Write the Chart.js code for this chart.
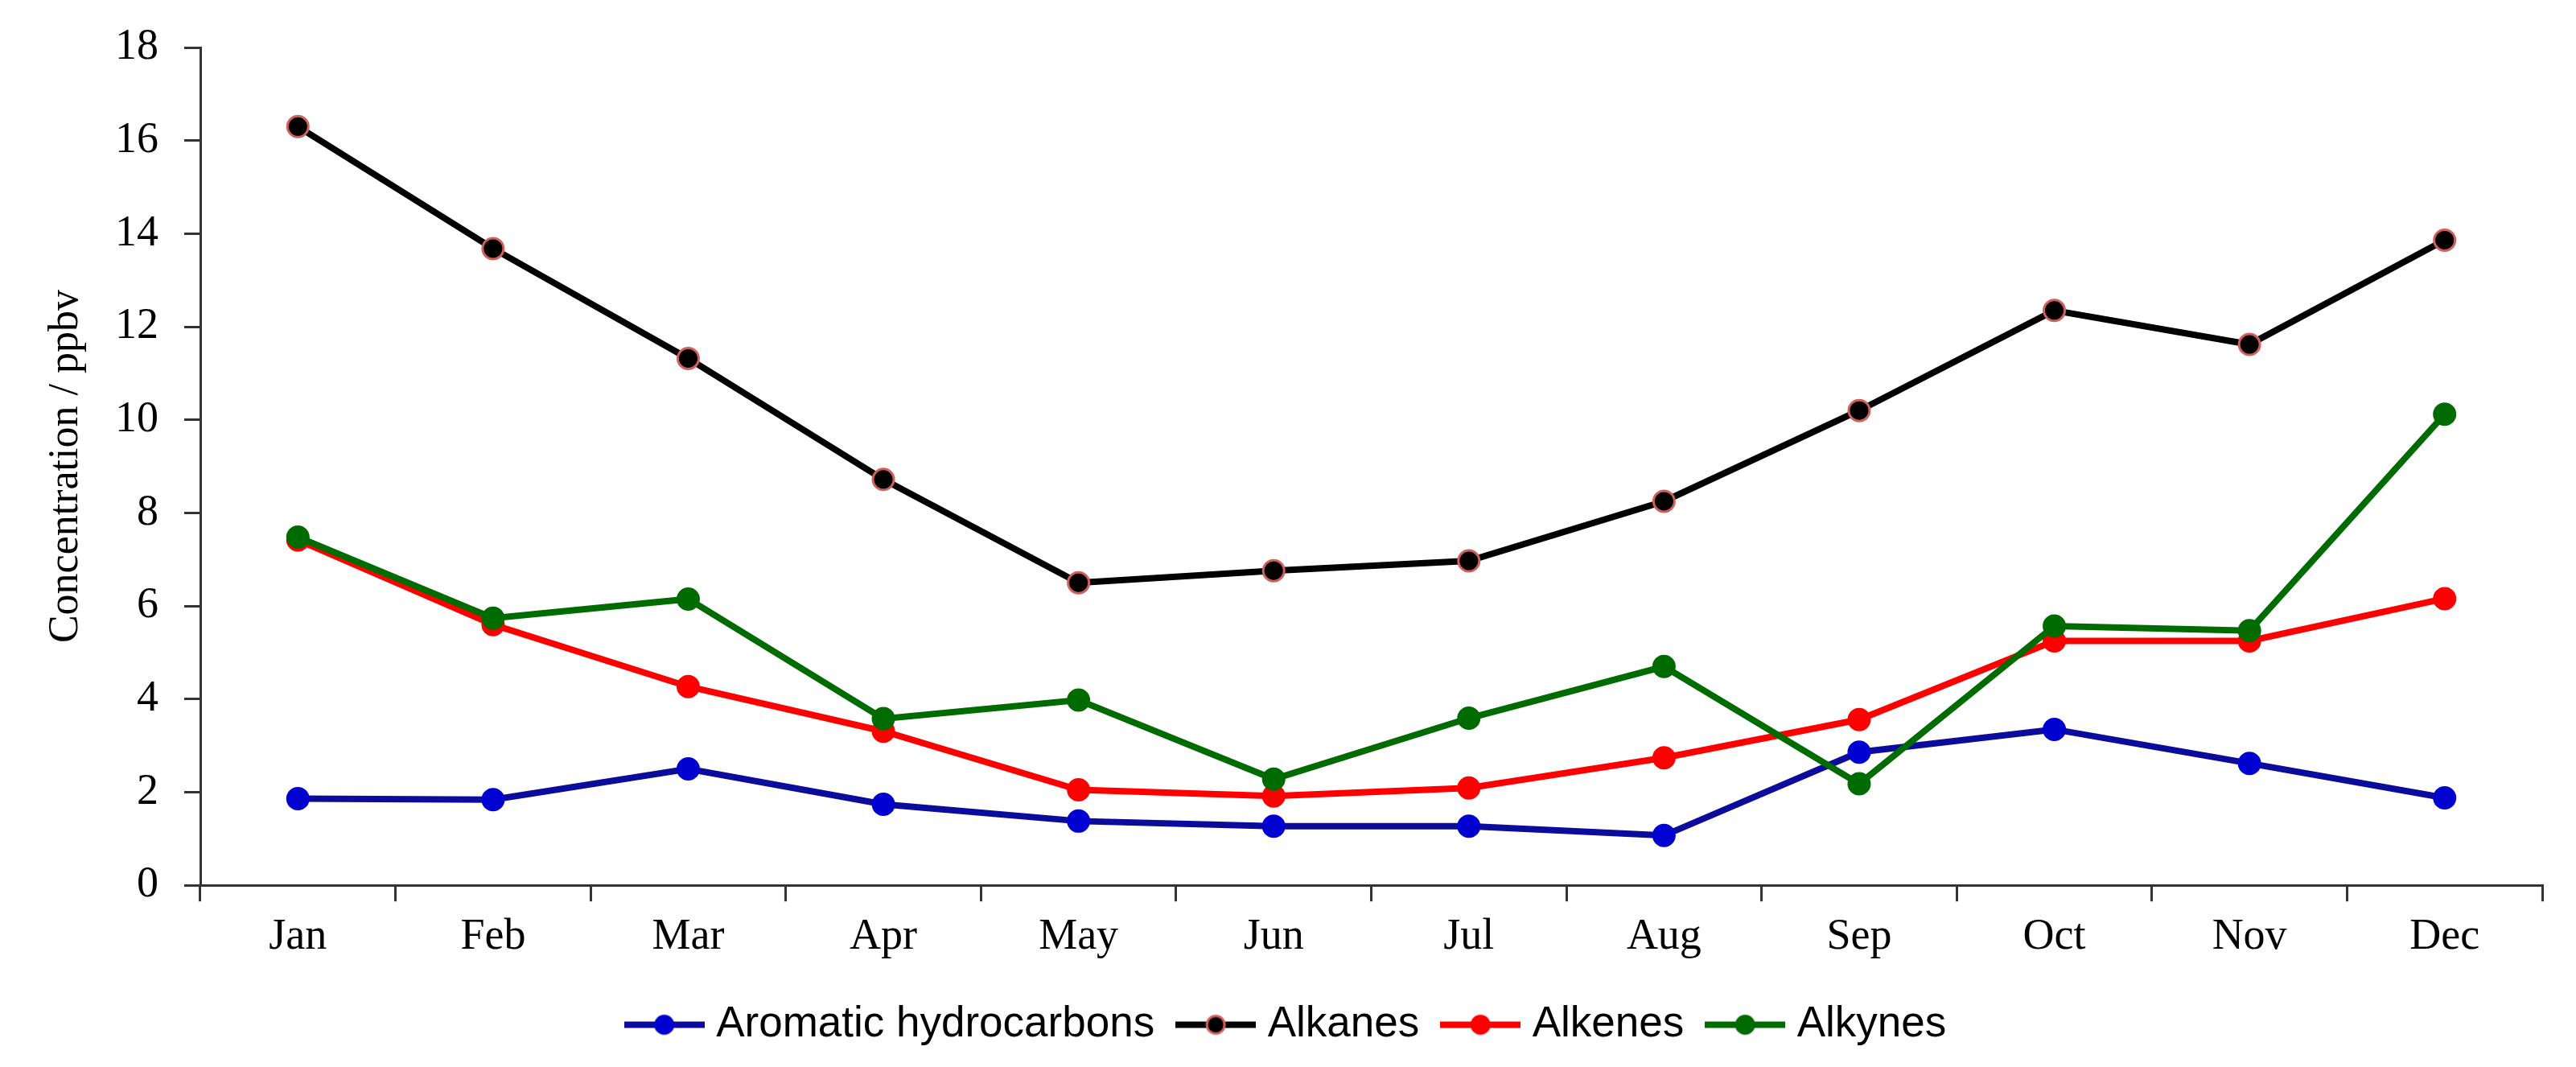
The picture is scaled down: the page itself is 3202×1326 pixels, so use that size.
<!DOCTYPE html>
<html>
<head>
<meta charset="utf-8">
<script src="https://cdn.jsdelivr.net/npm/chart.js@4/dist/chart.umd.min.js"></script>
<style>
    html, body { margin: 0; padding: 0; background: #fff; }
    #wrap { width: 3202px; height: 1326px; }
</style>
</head>
<body>
<div id="wrap"><canvas id="myChart" width="3202" height="1326"></canvas></div>
<script>
const months = ["Jan", "Feb", "Mar", "Apr", "May", "Jun", "Jul", "Aug", "Sep", "Oct", "Nov", "Dec"];
const seriesNames = ["Aromatic hydrocarbons", "Alkanes", "Alkenes", "Alkynes"];
const aromatic = [1.86, 1.84, 2.5, 1.74, 1.38, 1.27, 1.27, 1.07, 2.86, 3.35, 2.62, 1.88];
const alkanes = [16.3, 13.68, 11.32, 8.72, 6.5, 6.76, 6.97, 8.25, 10.2, 12.35, 11.62, 13.86];
const alkenes = [7.42, 5.6, 4.27, 3.31, 2.05, 1.92, 2.09, 2.74, 3.56, 5.25, 5.25, 6.16];
const alkynes = [7.48, 5.74, 6.15, 3.58, 3.98, 2.28, 3.59, 4.7, 2.18, 5.57, 5.47, 10.12];
const yTicks = [0, 2, 4, 6, 8, 10, 12, 14, 16, 18];

// legend symbol: short line with a dot in the middle
function legendIcon(lineColor, fill, edge) {
    const c = document.createElement("canvas");
    c.width = 100; c.height = 30;
    const g = c.getContext("2d");
    g.strokeStyle = lineColor;
    g.lineWidth = 8;
    g.beginPath(); g.moveTo(0, 15); g.lineTo(100, 15); g.stroke();
    g.beginPath(); g.arc(50, 15, 11, 0, Math.PI * 2);
    g.fillStyle = fill; g.fill();
    g.lineWidth = 3; g.strokeStyle = edge; g.stroke();
    return c;
}

function makeSet(label, data, line, fill, edge, order) {
    return {
        label: label,
        data: data,
        borderColor: line,
        backgroundColor: fill,
        borderWidth: 8,
        pointRadius: 13,
        pointBorderWidth: 3,
        pointBackgroundColor: fill,
        pointBorderColor: edge,
        tension: 0,
        order: order,
        icon: legendIcon(line, fill, edge)
    };
}

const ctx = document.getElementById("myChart").getContext("2d");

new Chart(ctx, {
    type: 'line',
    data: {
        labels: months,
        datasets: [
            makeSet(seriesNames[0], aromatic, '#0c0c9c', '#0000d0', '#0000d0', 4),
            makeSet(seriesNames[1], alkanes, '#000000', '#000000', '#d0605c', 3),
            makeSet(seriesNames[2], alkenes, '#ff0000', '#ff0000', '#ff0000', 2),
            makeSet(seriesNames[3], alkynes, '#006b00', '#006b00', '#006b00', 1)
        ]
    },
    options: {
        responsive: false,
        animation: false,
        layout: { padding: { top: 0, right: 42, bottom: 16, left: 47 } },
        plugins: {
            tooltip: { enabled: false },
            legend: {
                position: 'bottom',
                labels: {
                    font: { family: 'Liberation Sans', size: 53 },
                    color: '#000',
                    usePointStyle: true,
                    pointStyleWidth: 76,
                    padding: 38,
                    generateLabels: function(chart) {
                        return chart.data.datasets.map((ds, i) => ({
                            text: ds.label,
                            pointStyle: ds.icon,
                            fillStyle: ds.borderColor,
                            strokeStyle: ds.borderColor,
                            lineWidth: 0,
                            hidden: false,
                            datasetIndex: i
                        }));
                    }
                }
            }
        },
        scales: {
            x: {
                offset: true,
                grid: {
                    offset: true,
                    drawOnChartArea: false,
                    drawTicks: true,
                    tickLength: 20,
                    color: '#333',
                    lineWidth: 3
                },
                border: { color: '#333', width: 3 },
                ticks: {
                    padding: 12,
                    color: '#000',
                    font: { family: 'Liberation Serif', size: 54 }
                }
            },
            y: {
                min: 0,
                max: 18,
                afterBuildTicks: function(scale) {
                    scale.ticks = yTicks.map(v => ({ value: v }));
                },
                afterFit: function(scale) {
                    scale.width = 202;
                },
                grid: {
                    drawOnChartArea: false,
                    drawTicks: true,
                    tickLength: 20,
                    color: '#333',
                    lineWidth: 3
                },
                border: { color: '#333', width: 3 },
                ticks: {
                    padding: 32,
                    color: '#000',
                    font: { family: 'Liberation Serif', size: 54, lineHeight: 1 }
                },
                title: {
                    display: true,
                    text: 'Concentration / ppbv',
                    color: '#000',
                    padding: 4,
                    font: { family: 'Liberation Serif', size: 52 }
                }
            }
        }
    }
});
</script>
</body>
</html>
